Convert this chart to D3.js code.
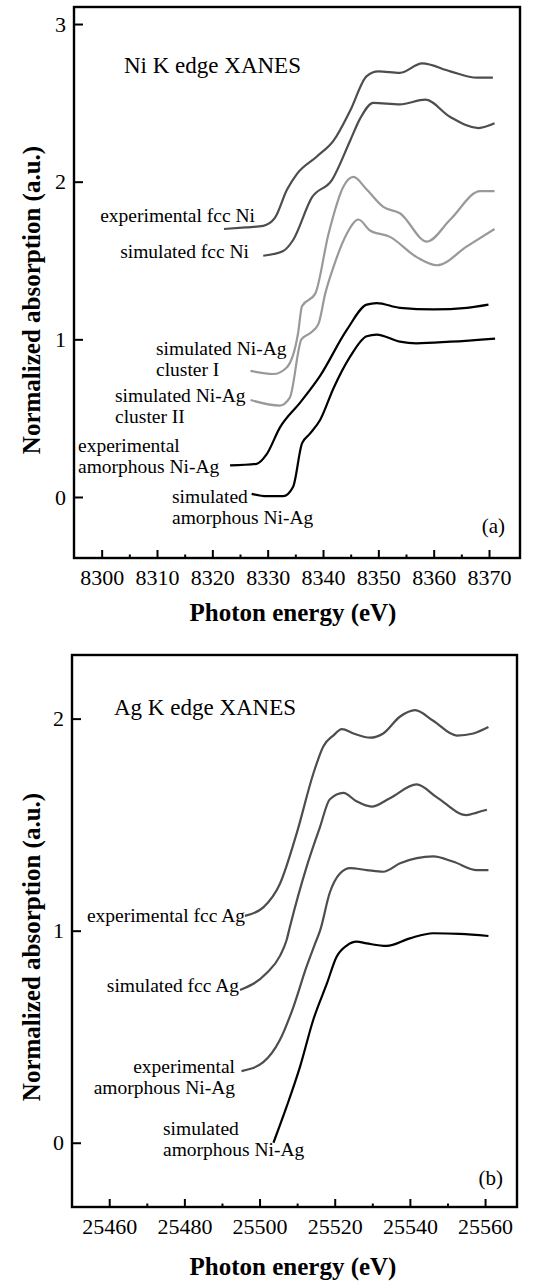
<!DOCTYPE html>
<html>
<head>
<meta charset="utf-8">
<script src="https://cdn.jsdelivr.net/npm/d3@7"></script>
<style>
  body { margin: 0; background: #fff; }
  svg text { font-family: "Liberation Serif", "DejaVu Serif", serif; fill: #000; }
</style>
</head>
<body>
<div id="chart"></div>
<script>
// ---- data: [photon energy (eV), normalized absorption] ----

// (a) Ni K edge
var niExpFcc = [[8322.1,1.70],[8326,1.71],[8329.2,1.72],[8331.3,1.77],[8333.5,1.95],[8335.3,2.05],[8338.9,2.16],
  [8341.9,2.26],[8344.9,2.45],[8347.9,2.67],[8350,2.70],[8353.9,2.69],[8357.9,2.75],[8363,2.70],[8367.8,2.66],[8370.7,2.66]];
var niSimFcc = [[8329.2,1.53],[8332.8,1.56],[8334.6,1.63],[8338.0,1.90],[8341.6,2.01],[8344.9,2.26],[8346.7,2.40],
  [8349.1,2.50],[8353.9,2.49],[8358.5,2.52],[8363,2.41],[8368.1,2.34],[8371,2.37]];
var niCluster1 = [[8326.9,0.80],[8331.0,0.78],[8333.4,0.82],[8335.5,1.04],[8336.2,1.21],[8338.6,1.29],[8341.0,1.67],
  [8343.7,1.97],[8345.5,2.03],[8347.9,1.95],[8350.9,1.84],[8353.9,1.80],[8358.8,1.62],[8363,1.76],[8368.4,1.94],[8371,1.94]];
var niCluster2 = [[8326.9,0.615],[8332.2,0.58],[8334.0,0.63],[8336.1,1.0],[8337.7,1.04],[8339.2,1.10],[8340.4,1.29],
  [8341.9,1.46],[8344.3,1.67],[8346.4,1.76],[8348.5,1.69],[8352.1,1.65],[8357,1.52],[8360.6,1.47],[8366,1.59],[8371,1.70]];
var niExpAmor = [[8323.2,0.20],[8328.0,0.21],[8329.8,0.27],[8332.2,0.44],[8335.9,0.60],[8339.5,0.77],[8344.3,1.06],
  [8347.9,1.22],[8349.7,1.23],[8353.9,1.20],[8360,1.19],[8366,1.20],[8369.9,1.22]];
var niSimAmor = [[8327.1,0.02],[8329.8,0.005],[8332.8,0.005],[8334.6,0.065],[8336.2,0.34],[8337.6,0.40],[8339.5,0.49],
  [8341.9,0.69],[8344.9,0.89],[8347.9,1.02],[8349.7,1.03],[8353.9,0.985],[8356.9,0.975],[8363,0.985],[8371.1,1.005]];

// (b) Ag K edge
var agExpFcc = [[25496.1,1.07],[25501.0,1.11],[25505.4,1.22],[25509.9,1.46],[25514.3,1.74],[25517,1.87],[25519.6,1.92],
  [25521.9,1.95],[25525,1.93],[25529.4,1.91],[25532.9,1.93],[25537.4,2.01],[25541.4,2.04],[25546.2,1.99],[25552.5,1.92],
  [25556.9,1.93],[25560.9,1.96]];
var agSimFcc = [[25494.8,0.72],[25501.9,0.80],[25505.4,0.88],[25507.2,0.956],[25508.1,1.02],[25512.5,1.30],[25516.1,1.49],
  [25518.7,1.62],[25522.3,1.65],[25525.8,1.61],[25529.8,1.585],[25534.7,1.625],[25541.8,1.69],[25547.1,1.63],
  [25555.1,1.545],[25557.8,1.557],[25560.5,1.57]];
var agExpAmor = [[25495.2,0.338],[25501.0,0.38],[25505.4,0.484],[25509.0,0.64],[25512.5,0.83],[25514.8,0.94],
  [25516.1,1.0],[25518.7,1.18],[25521.4,1.27],[25524.1,1.295],[25528.5,1.286],[25532.9,1.278],[25537.4,1.318],
  [25546.2,1.35],[25551.6,1.325],[25557.8,1.286],[25560.9,1.286]];
var agSimAmor = [[25503.7,0.0],[25507.2,0.17],[25510.8,0.36],[25514.3,0.58],[25517.9,0.75],[25520.5,0.877],
  [25523.2,0.93],[25525.8,0.948],[25528.5,0.94],[25533.8,0.928],[25540,0.964],[25546.2,0.988],[25553.3,0.985],[25560.9,0.975]];

// tick values
var niTicksX = [8300, 8310, 8320, 8330, 8340, 8350, 8360, 8370];
var niMinorX = [8305, 8315, 8325, 8335, 8345, 8355, 8365];
var niTicksY = [0, 1, 2, 3];
var agTicksX = [25460, 25480, 25500, 25520, 25540, 25560];
var agMinorX = [25470, 25490, 25510, 25530, 25550];
var agTicksY = [0, 1, 2];

var W = 536, H = 1281;
var svg = d3.select("#chart").append("svg")
    .attr("width", W)
    .attr("height", H);

var dark = "#4d4d4d", light = "#999999", black = "#000";

function drawPanel(p) {
  var x = d3.scaleLinear().domain(p.xDomain).range([p.left, p.right]);
  var y = d3.scaleLinear().domain(p.yDomain).range([p.bottom, p.top]);
  var g = svg.append("g");

  // frame
  g.append("rect")
    .attr("x", p.left).attr("y", p.top)
    .attr("width", p.right - p.left).attr("height", p.bottom - p.top)
    .attr("fill", "none").attr("stroke", "#000").attr("stroke-width", 2.4);

  // x axis: major ticks, minor ticks (pointing inward)
  var xAxis = d3.axisBottom(x).tickValues(p.xTicks).tickSize(-8).tickPadding(11)
      .tickFormat(d3.format("d"));
  var xg = g.append("g").attr("transform", "translate(0," + p.bottom + ")").call(xAxis);
  xg.select(".domain").remove();
  xg.selectAll("line").attr("stroke-width", 2);
  xg.selectAll("text").style("font-size", "22px").attr("font-family", "Liberation Serif");

  var minor = d3.axisBottom(x).tickValues(p.xMinor).tickSize(-3.5).tickFormat("");
  var mg = g.append("g").attr("transform", "translate(0," + p.bottom + ")").call(minor);
  mg.select(".domain").remove();
  mg.selectAll("line").attr("stroke-width", 2);

  // y axis
  var yAxis = d3.axisLeft(y).tickValues(p.yTicks).tickSize(-9).tickPadding(8).tickFormat(d3.format("d"));
  var yg = g.append("g").attr("transform", "translate(" + p.left + ",0)").call(yAxis);
  yg.select(".domain").remove();
  yg.selectAll("line").attr("stroke-width", 2);
  yg.selectAll("text").style("font-size", "22px").attr("font-family", "Liberation Serif");

  // curves
  var line = d3.line()
    .x(function(d) { return x(d[0]); })
    .y(function(d) { return y(d[1]); })
    .curve(d3.curveMonotoneX);

  p.series.forEach(function(s) {
    g.append("path")
      .datum(s.data)
      .attr("d", line)
      .attr("fill", "none")
      .attr("stroke", s.color)
      .attr("stroke-width", 2.2);
  });

  // labels
  p.labels.forEach(function(l) {
    var t = g.append("text")
      .attr("x", l.x).attr("y", l.y)
      .attr("text-anchor", l.anchor || "start")
      .style("font-size", (l.size || 19.5) + "px");
    l.lines.forEach(function(str, i) {
      t.append("tspan").attr("x", l.x).attr("dy", i === 0 ? 0 : 20.5).text(str);
    });
  });

  // axis titles
  g.append("text")
    .attr("x", 293)
    .attr("y", p.xTitleY)
    .attr("text-anchor", "middle")
    .style("font-size", "25px")
    .style("font-weight", "bold")
    .text("Photon energy (eV)");

  g.append("text")
    .attr("transform", "translate(40," + p.yTitleY + ") rotate(-90)")
    .attr("text-anchor", "middle")
    .style("font-size", "25px")
    .style("font-weight", "bold")
    .text("Normalized absorption (a.u.)");
}

drawPanel({
  left: 74, right: 520, top: 7, bottom: 558,
  xDomain: [8295, 8375.6], yDomain: [-0.387, 3.108],
  xTicks: niTicksX, xMinor: niMinorX, yTicks: niTicksY,
  xTitleY: 621, yTitleY: 300,
  series: [
    {data: niExpFcc, color: dark},
    {data: niSimFcc, color: dark},
    {data: niCluster1, color: light},
    {data: niCluster2, color: light},
    {data: niExpAmor, color: black},
    {data: niSimAmor, color: black}
  ],
  labels: [
    {x: 124, y: 73, lines: ["Ni K edge XANES"], size: 23},
    {x: 255, y: 222, lines: ["experimental fcc Ni"], anchor: "end"},
    {x: 249, y: 258, lines: ["simulated fcc Ni"], anchor: "end"},
    {x: 156, y: 355, lines: ["simulated Ni-Ag", "cluster I"]},
    {x: 115, y: 402, lines: ["simulated Ni-Ag", "cluster II"]},
    {x: 78, y: 452, lines: ["experimental", "amorphous Ni-Ag"]},
    {x: 172, y: 503, lines: ["simulated", "amorphous Ni-Ag"]},
    {x: 505, y: 533, lines: ["(a)"], anchor: "end", size: 21}
  ]
});

drawPanel({
  left: 72, right: 517, top: 655, bottom: 1207,
  xDomain: [25450.1, 25568.5], yDomain: [-0.303, 2.30],
  xTicks: agTicksX, xMinor: agMinorX, yTicks: agTicksY,
  xTitleY: 1275, yTitleY: 947,
  series: [
    {data: agExpFcc, color: dark},
    {data: agSimFcc, color: dark},
    {data: agExpAmor, color: dark},
    {data: agSimAmor, color: black}
  ],
  labels: [
    {x: 114, y: 715, lines: ["Ag K edge XANES"], size: 23},
    {x: 245, y: 922, lines: ["experimental fcc Ag"], anchor: "end"},
    {x: 239, y: 992, lines: ["simulated fcc Ag"], anchor: "end"},
    {x: 235, y: 1073, lines: ["experimental", "amorphous Ni-Ag"], anchor: "end"},
    {x: 163, y: 1135, lines: ["simulated", "amorphous Ni-Ag"]},
    {x: 503, y: 1185, lines: ["(b)"], anchor: "end", size: 21}
  ]
});
</script>
</body>
</html>
